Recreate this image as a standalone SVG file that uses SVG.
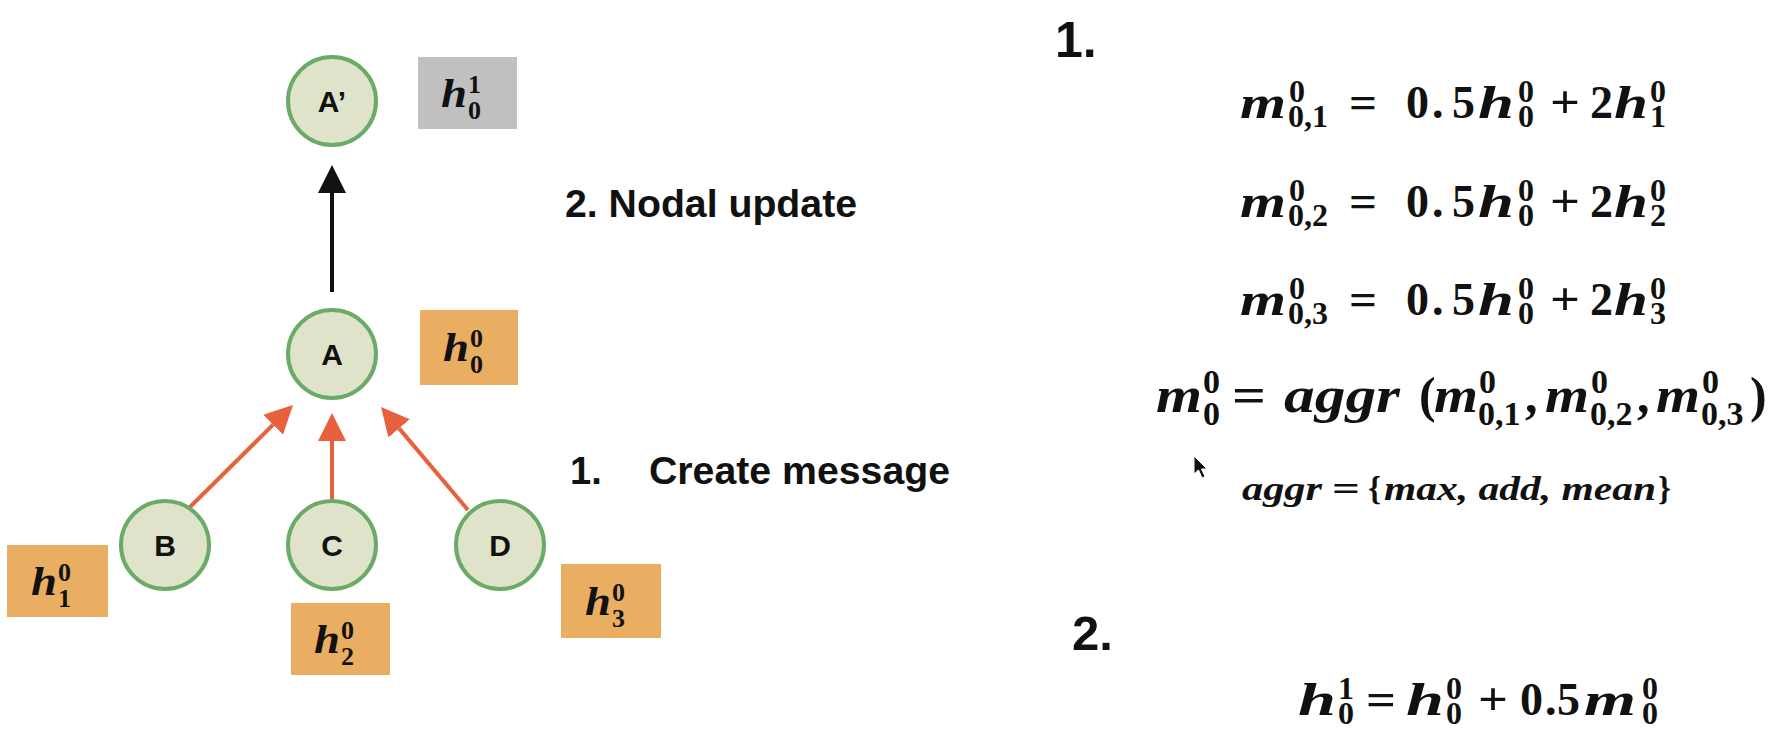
<svg xmlns="http://www.w3.org/2000/svg" width="1780" height="756" viewBox="0 0 1780 756">
<style>
.node circle{fill:#dfe3c9;stroke:#6aab67;stroke-width:4}
.nl{font-family:"Liberation Sans",Arial,sans-serif;font-weight:bold;font-size:30px;text-anchor:middle;fill:#111}
.bo{fill:#e9ae62}
.bg{fill:#c0c0c0}
.mi{font-family:"Liberation Serif","Times New Roman",serif;font-style:italic;font-weight:bold;fill:#111}
.mn{font-family:"Liberation Serif","Times New Roman",serif;font-style:normal;font-weight:bold}
.lbl{font-family:"Liberation Sans",Arial,sans-serif;font-weight:bold;fill:#111}
.red{stroke:#e8603c;stroke-width:4;fill:none}
.blk{stroke:#111;stroke-width:4;fill:none}
</style>
<defs>
<marker id="hr" viewBox="0 0 10 10" refX="0" refY="5" markerUnits="userSpaceOnUse" markerWidth="28" markerHeight="30" orient="auto"><path d="M0,0L10,5L0,10z" fill="#e8603c"/></marker>
<marker id="hb" viewBox="0 0 10 10" refX="0" refY="5" markerUnits="userSpaceOnUse" markerWidth="28" markerHeight="32" orient="auto"><path d="M0,0L10,5L0,10z" fill="#111"/></marker>
</defs>
<rect width="1780" height="756" fill="#fff"/>

<g id="connectors">
<line class="blk" x1="332" y1="292" x2="332" y2="193" marker-end="url(#hb)"/>
<line class="red" x1="190" y1="507" x2="273.1" y2="424.7" marker-end="url(#hr)"/>
<line class="red" x1="332" y1="500" x2="332" y2="441" marker-end="url(#hr)"/>
<line class="red" x1="468" y1="510" x2="399.1" y2="428.4" marker-end="url(#hr)"/>
</g>

<g id="node-Aprime" class="node"><circle cx="332" cy="101" r="44"/><text class="nl" x="332" y="112">A’</text></g>
<g id="node-A" class="node"><circle cx="332" cy="354" r="44"/><text class="nl" x="332" y="365">A</text></g>
<g id="node-B" class="node"><circle cx="165" cy="545" r="44"/><text class="nl" x="165" y="556">B</text></g>
<g id="node-C" class="node"><circle cx="332" cy="545" r="44"/><text class="nl" x="332" y="556">C</text></g>
<g id="node-D" class="node"><circle cx="500" cy="545" r="44"/><text class="nl" x="500" y="556">D</text></g>

<g id="box-h01"><rect class="bg" x="418" y="57" width="99" height="72"/>
<text class="mi" font-size="40"><tspan x="441" y="107" textLength="26" lengthAdjust="spacingAndGlyphs">h</tspan><tspan class="mn" x="468" y="93" font-size="26">1</tspan><tspan class="mn" x="468" y="119" font-size="26">0</tspan></text></g>
<g id="box-h00"><rect class="bo" x="420" y="310" width="98" height="75"/>
<text class="mi" font-size="40"><tspan x="443" y="361" textLength="26" lengthAdjust="spacingAndGlyphs">h</tspan><tspan class="mn" x="470" y="347" font-size="26">0</tspan><tspan class="mn" x="470" y="373" font-size="26">0</tspan></text></g>
<g id="box-h10"><rect class="bo" x="7" y="545" width="101" height="72"/>
<text class="mi" font-size="40"><tspan x="31" y="595" textLength="26" lengthAdjust="spacingAndGlyphs">h</tspan><tspan class="mn" x="58" y="581" font-size="26">0</tspan><tspan class="mn" x="58" y="607" font-size="26">1</tspan></text></g>
<g id="box-h20"><rect class="bo" x="291" y="603" width="99" height="72"/>
<text class="mi" font-size="40"><tspan x="314" y="653" textLength="26" lengthAdjust="spacingAndGlyphs">h</tspan><tspan class="mn" x="341" y="639" font-size="26">0</tspan><tspan class="mn" x="341" y="665" font-size="26">2</tspan></text></g>
<g id="box-h30"><rect class="bo" x="561" y="564" width="100" height="74"/>
<text class="mi" font-size="40"><tspan x="585" y="615" textLength="26" lengthAdjust="spacingAndGlyphs">h</tspan><tspan class="mn" x="612" y="601" font-size="26">0</tspan><tspan class="mn" x="612" y="627" font-size="26">3</tspan></text></g>

<g id="labels">
<text class="lbl" x="565" y="217" font-size="38" textLength="292" lengthAdjust="spacingAndGlyphs">2. Nodal update</text>
<text class="lbl" x="570" y="484" font-size="38">1.</text>
<text class="lbl" x="649" y="484" font-size="38" textLength="301" lengthAdjust="spacingAndGlyphs">Create message</text>
<text class="lbl" x="1055" y="57" font-size="50">1.</text>
<text class="lbl" x="1072" y="650" font-size="49">2.</text>
</g>

<g id="equations">
<text class="mi" font-size="46"><tspan x="1240" y="118" textLength="46" lengthAdjust="spacingAndGlyphs">m</tspan><tspan class="mn" x="1289" y="102" font-size="32">0</tspan><tspan class="mn" x="1288" y="127" font-size="32">0,1</tspan><tspan class="mn" x="1349" y="118" textLength="28" lengthAdjust="spacingAndGlyphs">=</tspan><tspan class="mn" x="1406" y="118">0</tspan><tspan class="mn" x="1432" y="118">.</tspan><tspan class="mn" x="1452" y="118">5</tspan><tspan x="1478" y="118" textLength="36" lengthAdjust="spacingAndGlyphs">h</tspan><tspan class="mn" x="1518" y="102" font-size="32">0</tspan><tspan class="mn" x="1518" y="127" font-size="32">0</tspan><tspan class="mn" x="1550" y="118" textLength="30" lengthAdjust="spacingAndGlyphs">+</tspan><tspan class="mn" x="1590" y="118">2</tspan><tspan x="1614" y="118" textLength="34" lengthAdjust="spacingAndGlyphs">h</tspan><tspan class="mn" x="1650" y="102" font-size="32">0</tspan><tspan class="mn" x="1650" y="127" font-size="32">1</tspan></text>

<text class="mi" font-size="46"><tspan x="1240" y="217" textLength="46" lengthAdjust="spacingAndGlyphs">m</tspan><tspan class="mn" x="1289" y="201" font-size="32">0</tspan><tspan class="mn" x="1288" y="226" font-size="32">0,2</tspan><tspan class="mn" x="1349" y="217" textLength="28" lengthAdjust="spacingAndGlyphs">=</tspan><tspan class="mn" x="1406" y="217">0</tspan><tspan class="mn" x="1432" y="217">.</tspan><tspan class="mn" x="1452" y="217">5</tspan><tspan x="1478" y="217" textLength="36" lengthAdjust="spacingAndGlyphs">h</tspan><tspan class="mn" x="1518" y="201" font-size="32">0</tspan><tspan class="mn" x="1518" y="226" font-size="32">0</tspan><tspan class="mn" x="1550" y="217" textLength="30" lengthAdjust="spacingAndGlyphs">+</tspan><tspan class="mn" x="1590" y="217">2</tspan><tspan x="1614" y="217" textLength="34" lengthAdjust="spacingAndGlyphs">h</tspan><tspan class="mn" x="1650" y="201" font-size="32">0</tspan><tspan class="mn" x="1650" y="226" font-size="32">2</tspan></text>

<text class="mi" font-size="46"><tspan x="1240" y="315" textLength="46" lengthAdjust="spacingAndGlyphs">m</tspan><tspan class="mn" x="1289" y="299" font-size="32">0</tspan><tspan class="mn" x="1288" y="324" font-size="32">0,3</tspan><tspan class="mn" x="1349" y="315" textLength="28" lengthAdjust="spacingAndGlyphs">=</tspan><tspan class="mn" x="1406" y="315">0</tspan><tspan class="mn" x="1432" y="315">.</tspan><tspan class="mn" x="1452" y="315">5</tspan><tspan x="1478" y="315" textLength="36" lengthAdjust="spacingAndGlyphs">h</tspan><tspan class="mn" x="1518" y="299" font-size="32">0</tspan><tspan class="mn" x="1518" y="324" font-size="32">0</tspan><tspan class="mn" x="1550" y="315" textLength="30" lengthAdjust="spacingAndGlyphs">+</tspan><tspan class="mn" x="1590" y="315">2</tspan><tspan x="1614" y="315" textLength="34" lengthAdjust="spacingAndGlyphs">h</tspan><tspan class="mn" x="1650" y="299" font-size="32">0</tspan><tspan class="mn" x="1650" y="324" font-size="32">3</tspan></text>

<text class="mi" font-size="50"><tspan x="1156" y="412" textLength="46" lengthAdjust="spacingAndGlyphs">m</tspan><tspan class="mn" x="1203" y="393" font-size="34">0</tspan><tspan class="mn" x="1203" y="425" font-size="34">0</tspan><tspan class="mn" x="1232" y="412" textLength="34" lengthAdjust="spacingAndGlyphs">=</tspan><tspan x="1284" y="412" textLength="116" lengthAdjust="spacingAndGlyphs">aggr</tspan><tspan class="mn" x="1419" y="412">(</tspan><tspan x="1434" y="412" textLength="44" lengthAdjust="spacingAndGlyphs">m</tspan><tspan class="mn" x="1479" y="393" font-size="34">0</tspan><tspan class="mn" x="1478" y="425" font-size="34">0,1</tspan><tspan class="mn" x="1525" y="412">,</tspan><tspan x="1545" y="412" textLength="44" lengthAdjust="spacingAndGlyphs">m</tspan><tspan class="mn" x="1591" y="393" font-size="34">0</tspan><tspan class="mn" x="1590" y="425" font-size="34">0,2</tspan><tspan class="mn" x="1637" y="412">,</tspan><tspan x="1656" y="412" textLength="44" lengthAdjust="spacingAndGlyphs">m</tspan><tspan class="mn" x="1702" y="393" font-size="34">0</tspan><tspan class="mn" x="1701" y="425" font-size="34">0,3</tspan><tspan class="mn" x="1750" y="412">)</tspan></text>

<text class="mi" font-size="33"><tspan x="1242" y="500" textLength="80" lengthAdjust="spacingAndGlyphs">aggr</tspan><tspan class="mn" x="1332" y="500" textLength="28" lengthAdjust="spacingAndGlyphs">=</tspan><tspan class="mn" x="1368" y="500">{</tspan><tspan x="1384" y="500" textLength="272" lengthAdjust="spacingAndGlyphs">max, add, mean</tspan><tspan class="mn" x="1658" y="500">}</tspan></text>

<text class="mi" font-size="46"><tspan x="1298" y="715" textLength="38" lengthAdjust="spacingAndGlyphs">h</tspan><tspan class="mn" x="1338" y="699" font-size="32">1</tspan><tspan class="mn" x="1338" y="724" font-size="32">0</tspan><tspan class="mn" x="1366" y="715" textLength="30" lengthAdjust="spacingAndGlyphs">=</tspan><tspan x="1406" y="715" textLength="38" lengthAdjust="spacingAndGlyphs">h</tspan><tspan class="mn" x="1446" y="699" font-size="32">0</tspan><tspan class="mn" x="1446" y="724" font-size="32">0</tspan><tspan class="mn" x="1478" y="715" textLength="30" lengthAdjust="spacingAndGlyphs">+</tspan><tspan class="mn" x="1520" y="715">0</tspan><tspan class="mn" x="1545" y="715">.</tspan><tspan class="mn" x="1557" y="715">5</tspan><tspan x="1584" y="715" textLength="52" lengthAdjust="spacingAndGlyphs">m</tspan><tspan class="mn" x="1642" y="699" font-size="32">0</tspan><tspan class="mn" x="1642" y="724" font-size="32">0</tspan></text>
</g>

<g id="cursor"><path d="M1194,456 L1194,474 L1198.5,470 L1202,478 L1205,476.5 L1201.5,469 L1207,469 Z" fill="#111" stroke="#fff" stroke-width="1"/></g>
</svg>
